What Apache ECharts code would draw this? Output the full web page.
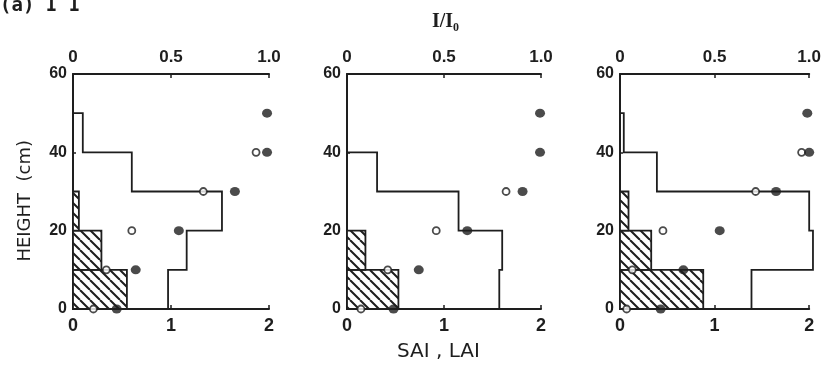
<!DOCTYPE html>
<html>
<head>
<meta charset="utf-8">
<script src="https://cdn.jsdelivr.net/npm/echarts@6/dist/echarts.min.js"></script>
<style>
  html, body { margin: 0; padding: 0; background: #fff; }
  #chart { width: 824px; height: 373px; }
</style>
</head>
<body>
<div id="chart"></div>
<script>
// Canopy layers: bottom edge of each 10 cm layer
const layerBottoms = [0, 10, 20, 30, 40];
const layerThickness = 10;
// Light-measurement heights (cm)
const lightHeights = [0, 10, 20, 30, 40, 50];

// Panel 1
const leafArea1 = [0.97, 1.16, 1.52, 0.60, 0.10];
const stemArea1 = [0.55, 0.29, 0.06];
const lightOpen1 = [0.104, 0.17, 0.30, 0.665, 0.934, null];
const lightFilled1 = [0.223, 0.32, 0.54, 0.826, 0.99, 0.99];

// Panel 2
const leafArea2 = [1.57, 1.60, 1.15, 0.31];
const stemArea2 = [0.53, 0.19];
const lightOpen2 = [0.072, 0.21, 0.46, 0.82, null, null];
const lightFilled2 = [0.24, 0.37, 0.62, 0.905, 0.995, 0.995];

// Panel 3
const leafArea3 = [1.39, 2.04, 2.00, 0.39, 0.04];
const stemArea3 = [0.88, 0.33, 0.09];
const lightOpen3 = [0.035, 0.065, 0.227, 0.717, 0.96, null];
const lightFilled3 = [0.215, 0.335, 0.527, 0.825, 1.0, 0.99];

// Axis ranges
const heightMax = 60, heightStep = 20;
const areaMax = 2, areaStep = 1;
const lightMax = 1, lightStep = 0.5;

const panels = [
  { leaf: leafArea1, stem: stemArea1, open: lightOpen1, filled: lightFilled1 },
  { leaf: leafArea2, stem: stemArea2, open: lightOpen2, filled: lightFilled2 },
  { leaf: leafArea3, stem: stemArea3, open: lightOpen3, filled: lightFilled3 }
];

const INK = '#1e1e1e';
const gridLefts = [73, 347, 620];
const gridWidths = [196, 194, 194];

// Diagonal hatch pattern for stem area
function makeHatch() {
  const c = document.createElement('canvas');
  const s = 10;
  c.width = s; c.height = s;
  const ctx = c.getContext('2d');
  ctx.fillStyle = '#fff';
  ctx.fillRect(0, 0, s, s);
  ctx.strokeStyle = INK;
  ctx.lineWidth = 2;
  ctx.beginPath();
  for (const o of [-s, 0, s]) {
    ctx.moveTo(o, 0);
    ctx.lineTo(o + s, s);
  }
  ctx.stroke();
  return c;
}
const hatch = { image: makeHatch(), repeat: 'repeat' };

// Outline of the stepped leaf-area profile, traced from the top layer down
function stepProfile(values) {
  const pts = [];
  const top = layerBottoms[values.length - 1] + layerThickness;
  pts.push([0, top]);
  for (let i = values.length - 1; i >= 0; i--) {
    pts.push([values[i], layerBottoms[i] + layerThickness]);
    pts.push([values[i], layerBottoms[i]]);
  }
  return pts;
}

const narrowBold = {
  color: INK, fontFamily: '"Liberation Sans Narrow", "Liberation Sans", sans-serif',
  fontWeight: 'bold'
};
const axisLineStyle = { show: true, onZero: false, lineStyle: { color: INK, width: 2 } };
const tickStyle = { show: true, inside: true, length: 4, lineStyle: { color: INK, width: 1.5 } };

const grid = [], xAxis = [], yAxis = [], series = [];
panels.forEach((p, i) => {
  grid.push({ left: gridLefts[i], width: gridWidths[i], top: 74, height: 235 });
  // bottom: SAI, LAI
  xAxis.push({
    gridIndex: i, type: 'value', position: 'bottom', min: 0, max: areaMax, interval: areaStep,
    axisLine: axisLineStyle, axisTick: tickStyle,
    axisLabel: Object.assign({ margin: 8, fontSize: 18 }, narrowBold),
    splitLine: { show: false }
  });
  // top: relative light intensity
  xAxis.push({
    gridIndex: i, type: 'value', position: 'top', min: 0, max: lightMax, interval: lightStep,
    axisLine: axisLineStyle, axisTick: tickStyle,
    axisLabel: Object.assign({
      margin: 8, fontSize: 17,
      formatter: v => (v === 0 ? '0' : v.toFixed(1))
    }, narrowBold),
    splitLine: { show: false }
  });
  yAxis.push({
    gridIndex: i, type: 'value', min: 0, max: heightMax, interval: heightStep,
    axisLine: axisLineStyle,
    axisTick: { show: true, inside: true, length: 3, lineStyle: { color: INK, width: 1.5 } },
    axisLabel: Object.assign({ margin: 6, fontSize: 16 }, narrowBold),
    splitLine: { show: false }
  });

  const xb = i * 2, xt = i * 2 + 1;

  // stem area: hatched layer blocks
  series.push({
    type: 'custom', xAxisIndex: xb, yAxisIndex: i, z: 2,
    data: p.stem.map((v, k) => [v, layerBottoms[k], layerBottoms[k] + layerThickness]),
    renderItem: (params, api) => {
      const a = api.coord([0, api.value(1)]);
      const b = api.coord([api.value(0), api.value(2)]);
      return {
        type: 'rect',
        shape: { x: a[0], y: b[1], width: b[0] - a[0], height: a[1] - b[1] },
        style: { fill: hatch, stroke: INK, lineWidth: 1.8 }
      };
    },
    encode: { x: 0, y: [1, 2] },
    silent: true
  });

  // leaf area: stepped profile, drawn as a polyline so it may run past the axis end
  series.push({
    type: 'custom', xAxisIndex: xb, yAxisIndex: i, z: 3, clip: false,
    data: [0],
    renderItem: (params, api) => ({
      type: 'polyline',
      shape: { points: stepProfile(p.leaf).map(pt => api.coord(pt)) },
      style: { stroke: INK, lineWidth: 1.8, fill: null }
    }),
    silent: true
  });

  // light: open circles
  series.push({
    type: 'scatter', xAxisIndex: xt, yAxisIndex: i, z: 4, clip: false,
    data: p.open.map((v, k) => (v == null ? null : [v, lightHeights[k]])).filter(d => d),
    symbol: 'circle', symbolSize: 7,
    itemStyle: { color: '#fff', borderColor: INK, borderWidth: 1.8 },
    silent: true, animation: false
  });
  // light: filled circles
  series.push({
    type: 'scatter', xAxisIndex: xt, yAxisIndex: i, z: 5, clip: false,
    data: p.filled.map((v, k) => (v == null ? null : [v, lightHeights[k]])).filter(d => d),
    symbol: 'circle', symbolSize: [10, 9],
    itemStyle: { color: INK },
    silent: true, animation: false
  });
});

const chart = echarts.init(document.getElementById('chart'), null, { renderer: 'canvas' });
chart.setOption({
  backgroundColor: '#fff',
  animation: false,
  grid, xAxis, yAxis, series,
  graphic: [
    {
      type: 'text', left: 0, top: -3,
      style: { text: '(a) I I', font: 'bold 19px "DejaVu Sans Mono", monospace', fill: INK }
    },
    {
      type: 'text', left: 432, top: 12,
      style: { text: 'I/I₀', font: 'bold 20px "Liberation Serif", serif', fill: INK }
    },
    {
      type: 'text', left: 16, top: 140, rotation: Math.PI / 2,
      style: { text: 'HEIGHT  (cm)', font: '18px "DejaVu Sans", sans-serif', fill: INK }
    },
    {
      type: 'text', left: 397, top: 342,
      style: { text: 'SAI , LAI', font: '20px "DejaVu Sans", sans-serif', fill: INK }
    }
  ]
});
</script>
</body>
</html>
